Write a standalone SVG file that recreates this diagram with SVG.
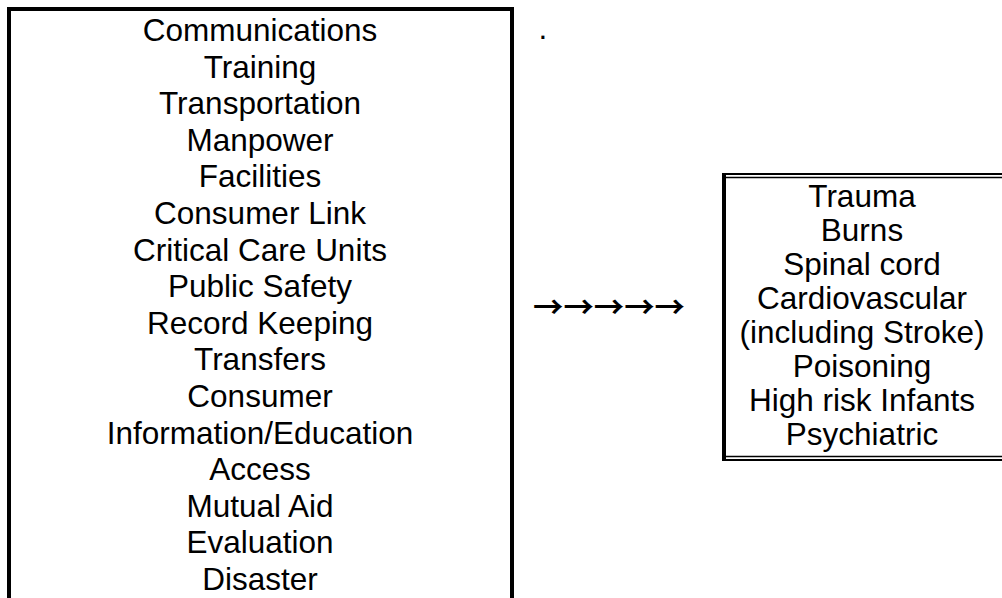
<svg xmlns="http://www.w3.org/2000/svg" width="1002" height="598" viewBox="0 0 1002 598">
<style>
text{font-family:"Liberation Sans",Arial,sans-serif;font-size:31.5px;fill:#000;text-anchor:middle}
.frame{fill:none;stroke:#000}
.arrows{font-family:"Noto Sans CJK JP","DejaVu Sans",sans-serif;font-weight:bold;font-size:30px}
</style>
<rect width="1002" height="598" fill="#fff"/>
<g id="left-box">
<path class="frame" stroke-width="4" d="M9,600 V9 H512 V600"/>
<text x="260" y="41">Communications</text>
<text x="260" y="77.6">Training</text>
<text x="260" y="114.2">Transportation</text>
<text x="260" y="150.8">Manpower</text>
<text x="260" y="187.4">Facilities</text>
<text x="260" y="224">Consumer Link</text>
<text x="260" y="260.6">Critical Care Units</text>
<text x="260" y="297.2">Public Safety</text>
<text x="260" y="333.8">Record Keeping</text>
<text x="260" y="370.4">Transfers</text>
<text x="260" y="407">Consumer</text>
<text x="260" y="443.6">Information/Education</text>
<text x="260" y="480.2">Access</text>
<text x="260" y="516.8">Mutual Aid</text>
<text x="260" y="553.4">Evaluation</text>
<text x="260" y="590">Disaster</text>
</g>
<g id="dot"><text x="543" y="39">.</text></g>
<g id="connectors">
<text class="arrows" x="609" y="318" textLength="152" lengthAdjust="spacingAndGlyphs">→→→→→</text>
</g>
<g id="right-box">
<path class="frame" stroke-width="4" d="M724,460 V173"/>
<path class="frame" stroke-width="2" d="M722,174 H1004"/>
<path class="frame" stroke-width="1.5" d="M726,177.5 H1004"/>
<path class="frame" stroke-width="1.5" d="M726,456.5 H1004"/>
<path class="frame" stroke-width="2" d="M722,460 H1004"/>
<text x="862" y="207">Trauma</text>
<text x="862" y="241">Burns</text>
<text x="862" y="275">Spinal cord</text>
<text x="862" y="309">Cardiovascular</text>
<text x="862" y="343">(including Stroke)</text>
<text x="862" y="377">Poisoning</text>
<text x="862" y="411">High risk Infants</text>
<text x="862" y="445">Psychiatric</text>
</g>
</svg>
